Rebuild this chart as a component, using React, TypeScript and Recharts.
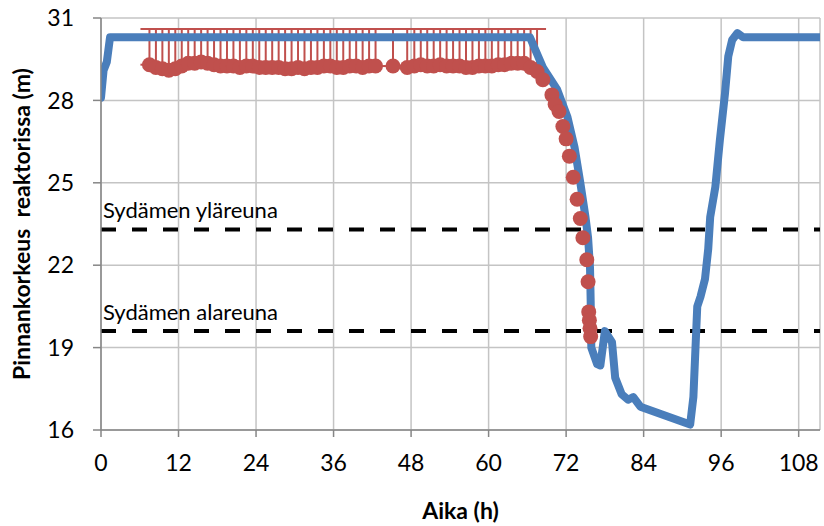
import React from "react";
import {
  ComposedChart,
  Line,
  Scatter,
  ErrorBar,
  XAxis,
  YAxis,
  CartesianGrid,
  ReferenceLine,
} from "recharts";

document.body.style.margin = "0";

// ---------------------------------------------------------------------------
// Data
// ---------------------------------------------------------------------------

// simulated level (blue line): hours / metres
const SIM_HOURS = [
  0, 0.4, 0.9, 1.4, 66.4, 68.4, 70.6, 72.2, 73.3, 74.2, 75.0, 75.4, 75.7, 75.8,
  75.9, 76.8, 77.3, 78.0, 79.1, 79.6, 80.6, 81.6, 82.4, 83.5, 91.2, 91.7, 92.3,
  92.8, 93.5, 94.0, 94.3, 95.1, 95.8, 96.6, 97.1, 97.7, 98.5, 99.4, 111.3,
];
const SIM_LEVEL = [
  28.1, 29.1, 29.4, 30.3, 30.3, 29.2, 28.4, 27.4, 26.3, 25.0, 23.75, 23.0, 21.9,
  20.7, 19.0, 18.4, 18.35, 19.6, 19.2, 17.9, 17.3, 17.1, 17.2, 16.85, 16.2,
  17.2, 20.5, 20.85, 21.5, 22.6, 23.75, 24.85, 26.55, 28.27, 29.6, 30.2, 30.45,
  30.3, 30.3,
];

// measured level (red dots): hours / metres
const MEAS_HOURS = [
  7.5, 8.5, 9.5, 10.5, 11.5, 12.5, 13.5, 14.5, 15.5, 16.5, 17.5, 18.5, 19.5,
  20.5, 21.5, 22.5, 23.5, 24.5, 25.5, 26.5, 27.5, 28.5, 29.5, 30.5, 31.5, 32.5,
  33.5, 34.5, 35.5, 36.5, 37.5, 38.5, 39.5, 40.5, 41.5, 42.5, 45.2, 47.4, 48.5,
  49.5, 50.5, 51.5, 52.5, 53.5, 54.5, 55.5, 56.5, 57.5, 58.5, 59.5, 60.5, 61.5,
  62.5, 63.5, 64.5, 65.5, 66.5, 67.5, 68.4, 69.8, 70.3, 70.9, 71.5, 72.0, 72.5,
  73.1, 73.7, 74.2, 74.6, 75.2, 75.4, 75.5, 75.6, 75.7, 75.8,
];
const MEAS_LEVEL = [
  29.3, 29.2, 29.15, 29.1, 29.15, 29.25, 29.35, 29.35, 29.4, 29.35, 29.3, 29.25,
  29.25, 29.25, 29.2, 29.25, 29.25, 29.2, 29.2, 29.2, 29.2, 29.15, 29.15, 29.2,
  29.15, 29.2, 29.2, 29.25, 29.25, 29.2, 29.2, 29.25, 29.25, 29.2, 29.25, 29.25,
  29.25, 29.2, 29.25, 29.3, 29.25, 29.25, 29.3, 29.25, 29.25, 29.25, 29.2, 29.2,
  29.25, 29.25, 29.25, 29.3, 29.3, 29.35, 29.35, 29.35, 29.2, 29.05, 28.75,
  28.2, 27.85, 27.6, 27.05, 26.6, 25.97, 25.2, 24.4, 23.7, 23.0, 22.2, 21.4,
  20.3, 20.0, 19.7, 19.4,
];
// upper end of the measurement uncertainty bars (only before the drop)
const MEAS_CAP = 30.6;
const MEAS_CAP_UNTIL = 68;

const CORE_TOP = 23.3;
const CORE_BOTTOM = 19.6;

const X_TICKS = [0, 12, 24, 36, 48, 60, 72, 84, 96, 108];
const Y_TICKS = [16, 19, 22, 25, 28, 31];

// ---------------------------------------------------------------------------

const simData = SIM_HOURS.map((h, i) => ({ h, sim: SIM_LEVEL[i] }));
const measData = MEAS_HOURS.map((h, i) => ({
  h,
  meas: MEAS_LEVEL[i],
  err: h < MEAS_CAP_UNTIL ? [0, MEAS_CAP - MEAS_LEVEL[i]] : [0, 0],
}));
const barData = measData.filter((d) => d.h < MEAS_CAP_UNTIL);

const FONT = "Lato, 'Open Sans', sans-serif";
const BLUE = "#4a7ebb";
const RED = "#c0504d";

function RefLabel(props: any) {
  const { viewBox, text } = props;
  return (
    <text
      x={viewBox.x + 2}
      y={viewBox.y - 11}
      fontFamily={FONT}
      fontSize={22}
      fill="#000"
    >
      {text}
    </text>
  );
}

function YTitle(props: any) {
  const { viewBox } = props;
  const cx = 21;
  const cy = viewBox.y + viewBox.height / 2;
  return (
    <text
      x={cx}
      y={cy}
      transform={`rotate(-90 ${cx} ${cy})`}
      textAnchor="middle"
      dominantBaseline="central"
      fontFamily={FONT}
      fontWeight="bold"
      fontSize={23}
      fill="#000"
    >
      Pinnankorkeus{"\u00a0 "}reaktorissa (m)
    </text>
  );
}

function XTitle(props: any) {
  const { viewBox } = props;
  return (
    <text
      x={viewBox.x + viewBox.width / 2}
      y={510}
      textAnchor="middle"
      dominantBaseline="central"
      fontFamily={FONT}
      fontWeight="bold"
      fontSize={23}
      fill="#000"
    >
      Aika (h)
    </text>
  );
}

const tickStyle = { fontFamily: FONT, fontSize: 23, fill: "#000" };

export default function App() {
  return (
    <ComposedChart
      width={824}
      height={526}
      margin={{ top: 18, right: 4, bottom: 0, left: 0 }}
    >
      <CartesianGrid stroke="#c4c4c4" strokeWidth={1.5} />
      <XAxis
        type="number"
        dataKey="h"
        domain={[0, 111.3]}
        ticks={X_TICKS}
        interval={0}
        height={96}
        tick={tickStyle}
        tickSize={7}
        tickMargin={18}
        stroke="#868686"
        strokeWidth={1.5}
        allowDataOverflow
        label={<XTitle />}
      />
      <YAxis
        type="number"
        domain={[16, 31]}
        ticks={Y_TICKS}
        interval={0}
        width={101}
        tick={tickStyle}
        tickSize={8}
        tickMargin={19}
        stroke="#868686"
        strokeWidth={1.5}
        label={<YTitle />}
      />
      <ReferenceLine
        y={CORE_TOP}
        stroke="#000"
        strokeWidth={4}
        strokeDasharray="15 16"
        label={<RefLabel text="Sydämen yläreuna" />}
      />
      <ReferenceLine
        y={CORE_BOTTOM}
        stroke="#000"
        strokeWidth={4}
        strokeDasharray="15 16"
        label={<RefLabel text="Sydämen alareuna" />}
      />
      <Scatter
        data={barData}
        dataKey="meas"
        isAnimationActive={false}
        shape={() => <g />}
      >
        <ErrorBar
          dataKey="err"
          direction="y"
          width={9}
          stroke={RED}
          strokeWidth={2}
        />
      </Scatter>
      <Line
        data={simData}
        dataKey="sim"
        type="linear"
        stroke={BLUE}
        strokeWidth={8}
        strokeLinejoin="round"
        strokeLinecap="round"
        dot={false}
        activeDot={false}
        isAnimationActive={false}
      />
      <Scatter
        data={measData}
        dataKey="meas"
        isAnimationActive={false}
        shape={(p: any) => <circle cx={p.cx} cy={p.cy} r={7.5} fill={RED} />}
      />
    </ComposedChart>
  );
}
